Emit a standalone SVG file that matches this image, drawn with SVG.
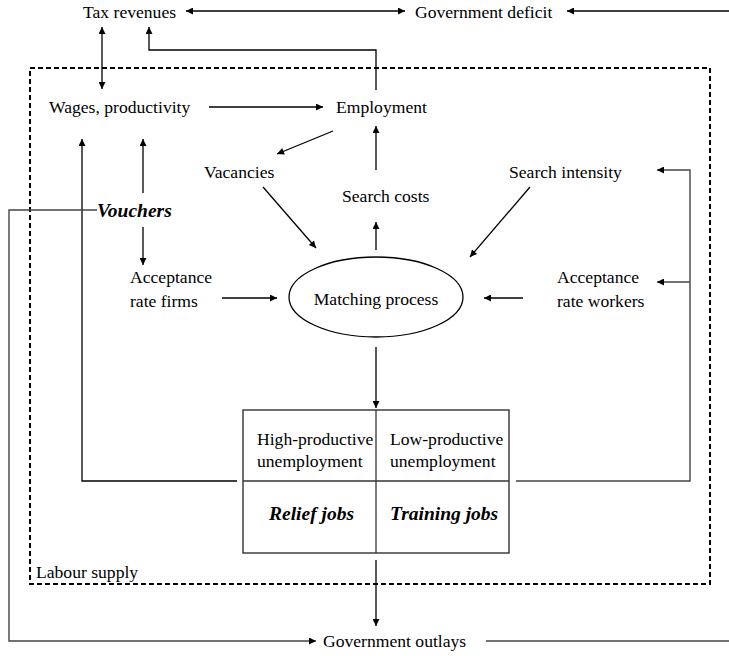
<svg xmlns="http://www.w3.org/2000/svg" width="729" height="656" viewBox="0 0 729 656">
<style>
text{font-family:"Liberation Serif","Times New Roman",serif;font-size:17.6px;fill:#000}
.bi{font-weight:bold;font-style:italic;font-size:19.5px}
.c{fill:none;stroke:#000;stroke-width:1.3}
.g{fill:none;stroke:#444;stroke-width:1.4}
.a{marker-end:url(#ah)}
.b{marker-start:url(#ah);marker-end:url(#ah)}
</style>
<defs>
<marker id="ah" viewBox="0 0 10 10" refX="10" refY="5" markerWidth="9" markerHeight="7" orient="auto-start-reverse" markerUnits="userSpaceOnUse">
<path d="M0,0 L10,5 L0,10 z" fill="#000"/>
</marker>
</defs>
<rect x="30" y="68" width="680" height="516" fill="none" stroke="#000" stroke-width="2" stroke-dasharray="5,3"/>
<g id="connectors">
<line class="c b" x1="186" y1="11" x2="405" y2="11"/>
<line class="c a" x1="729" y1="11" x2="567" y2="11"/>
<line class="c b" x1="102" y1="27" x2="102" y2="89"/>
<path class="c a" d="M376,90 V50 H149 V27"/>
<line class="c a" x1="209" y1="107" x2="323" y2="107"/>
<line class="c a" x1="333" y1="131" x2="277" y2="154"/>
<line class="c a" x1="263" y1="187" x2="316" y2="248"/>
<line class="c a" x1="376" y1="170" x2="376" y2="126"/>
<line class="c a" x1="376" y1="250" x2="376" y2="222"/>
<line class="c a" x1="530" y1="187" x2="470" y2="257"/>
<line class="c a" x1="222" y1="298" x2="277" y2="298"/>
<line class="c a" x1="523" y1="298" x2="484" y2="298"/>
<line class="c a" x1="376" y1="347" x2="376" y2="408"/>
<line class="c a" x1="143" y1="193" x2="143" y2="139"/>
<line class="c a" x1="143" y1="227" x2="143" y2="265"/>
<path class="c a" d="M237,481 H82 V139"/>
<path class="g a" d="M516,481 H690 V170 H657"/>
<path class="g a" d="M690,282 H657"/>
<line class="c a" x1="376" y1="560" x2="376" y2="626"/>
<path class="g a" d="M97,210 H9 V641 H316"/>
<line class="g" x1="486" y1="641" x2="729" y2="641"/>
</g>
<g id="tax"><text x="83" y="18">Tax revenues</text></g>
<g id="deficit"><text x="415" y="18">Government deficit</text></g>
<g id="wages"><text x="49" y="113">Wages, productivity</text></g>
<g id="employment"><text x="336" y="113">Employment</text></g>
<g id="vacancies"><text x="204" y="178">Vacancies</text></g>
<g id="searchcosts"><text x="342" y="202">Search costs</text></g>
<g id="searchintensity"><text x="509" y="178">Search intensity</text></g>
<g id="vouchers"><text class="bi" x="97" y="217">Vouchers</text></g>
<g id="accfirms"><text x="130" y="283">Acceptance</text><text x="130" y="307">rate firms</text></g>
<g id="accworkers"><text x="557" y="283">Acceptance</text><text x="557" y="307">rate workers</text></g>
<g id="matching">
<ellipse cx="376" cy="297" rx="87" ry="40" fill="none" stroke="#000" stroke-width="1.3"/>
<text x="376" y="305" text-anchor="middle">Matching process</text>
</g>
<g id="table">
<rect x="243" y="410" width="266" height="143" fill="none" stroke="#333" stroke-width="1.4"/>
<line x1="376" y1="410" x2="376" y2="553" stroke="#333" stroke-width="1.3"/>
<line x1="243" y1="481" x2="509" y2="481" stroke="#333" stroke-width="1.4"/>
<text x="257" y="445">High-productive</text>
<text x="257" y="467">unemployment</text>
<text x="390" y="445">Low-productive</text>
<text x="390" y="467">unemployment</text>
<text class="bi" x="269" y="520">Relief jobs</text>
<text class="bi" x="390" y="520">Training jobs</text>
</g>
<g id="labour"><text x="36" y="578">Labour supply</text></g>
<g id="outlays"><text x="323" y="647">Government outlays</text></g>
</svg>
